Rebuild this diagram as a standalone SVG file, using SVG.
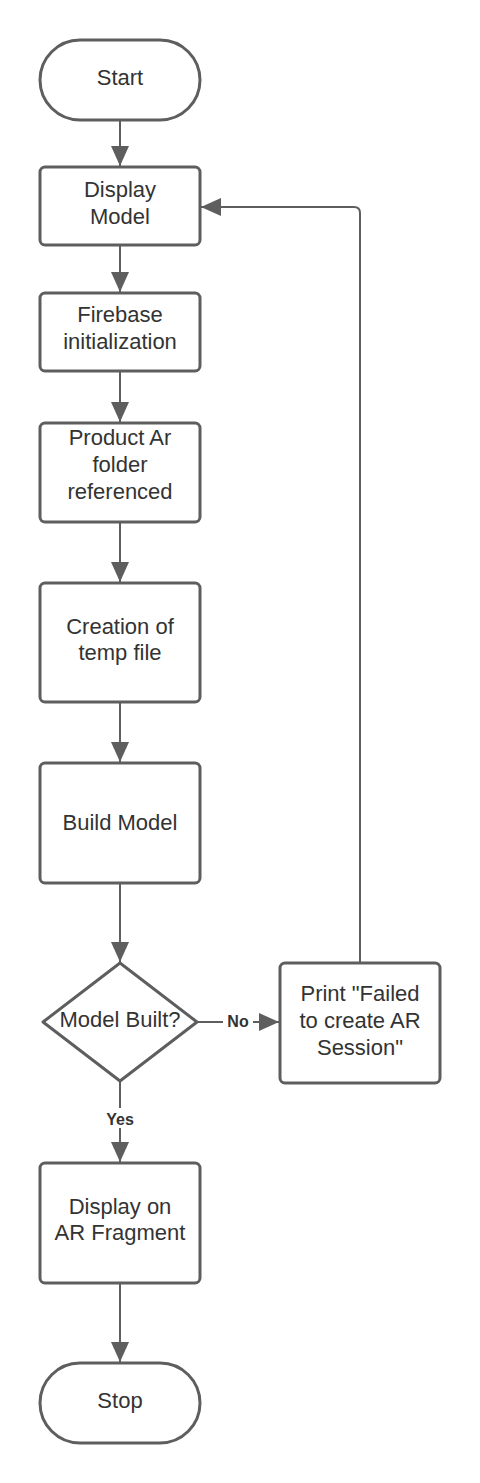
<svg xmlns="http://www.w3.org/2000/svg" width="480" height="1483" viewBox="0 0 480 1483">
<defs>
<style>
.n{fill:#fff;stroke:#5e5e5e;stroke-width:3}
.t{font-family:"Liberation Sans",Arial,sans-serif;font-size:22px;fill:#333;text-anchor:middle}
.l{font-family:"Liberation Sans",Arial,sans-serif;font-size:16px;font-weight:bold;fill:#333;text-anchor:middle}
.c{fill:none;stroke:#5e5e5e;stroke-width:2}
</style>
<marker id="ah" markerWidth="20" markerHeight="18" viewBox="0 0 20 18" refX="20" refY="9" orient="auto" markerUnits="userSpaceOnUse">
<path d="M0,0 L20,9 L0,18 Z" fill="#5e5e5e"/>
</marker>
</defs>
<rect width="480" height="1483" fill="#fff"/>
<g id="connectors">
<line class="c" x1="120" y1="121" x2="120" y2="166" marker-end="url(#ah)"/>
<line class="c" x1="120" y1="246" x2="120" y2="292" marker-end="url(#ah)"/>
<line class="c" x1="120" y1="372" x2="120" y2="422" marker-end="url(#ah)"/>
<line class="c" x1="120" y1="523" x2="120" y2="582" marker-end="url(#ah)"/>
<line class="c" x1="120" y1="703" x2="120" y2="762" marker-end="url(#ah)"/>
<line class="c" x1="120" y1="884" x2="120" y2="962" marker-end="url(#ah)"/>
<line class="c" x1="198" y1="1022" x2="279" y2="1022" marker-end="url(#ah)"/>
<line class="c" x1="120" y1="1082" x2="120" y2="1162" marker-end="url(#ah)"/>
<line class="c" x1="120" y1="1284" x2="120" y2="1362" marker-end="url(#ah)"/>
<path class="c" d="M360,963 L360,213 Q360,207 354,207 L201,207" marker-end="url(#ah)"/>
<rect x="223" y="1011" width="30" height="20" fill="#fff"/>
<text class="l" x="238" y="1027">No</text>
<rect x="103" y="1108" width="34" height="20" fill="#fff"/>
<text class="l" x="120" y="1125">Yes</text>
</g>
<g id="start"><rect class="n" x="40" y="40" width="160" height="80" rx="40"/><text class="t" x="120" y="85">Start</text></g>
<g id="display-model"><rect class="n" x="40" y="167" width="160" height="78" rx="5"/><text class="t" x="120" y="197">Display</text><text class="t" x="120" y="224">Model</text></g>
<g id="firebase"><rect class="n" x="40" y="293" width="160" height="78" rx="5"/><text class="t" x="120" y="322">Firebase</text><text class="t" x="120" y="349">initialization</text></g>
<g id="product-ar"><rect class="n" x="40" y="423" width="160" height="99" rx="5"/><text class="t" x="120" y="445">Product Ar</text><text class="t" x="120" y="472">folder</text><text class="t" x="120" y="499">referenced</text></g>
<g id="creation"><rect class="n" x="40" y="583" width="160" height="119" rx="5"/><text class="t" x="120" y="634">Creation of</text><text class="t" x="120" y="660">temp file</text></g>
<g id="build-model"><rect class="n" x="40" y="763" width="160" height="120" rx="5"/><text class="t" x="120" y="830">Build Model</text></g>
<g id="model-built"><path class="n" d="M120,963 L197,1022 L120,1081 L43,1022 Z" stroke-linejoin="round"/><text class="t" x="120" y="1027">Model Built?</text></g>
<g id="print-failed"><rect class="n" x="280" y="963" width="160" height="120" rx="5"/><text class="t" x="360" y="1001">Print "Failed</text><text class="t" x="360" y="1028">to create AR</text><text class="t" x="360" y="1055">Session"</text></g>
<g id="display-ar"><rect class="n" x="40" y="1163" width="160" height="120" rx="5"/><text class="t" x="120" y="1214">Display on</text><text class="t" x="120" y="1240">AR Fragment</text></g>
<g id="stop"><rect class="n" x="40" y="1363" width="160" height="80" rx="40"/><text class="t" x="120" y="1408">Stop</text></g>
</svg>
